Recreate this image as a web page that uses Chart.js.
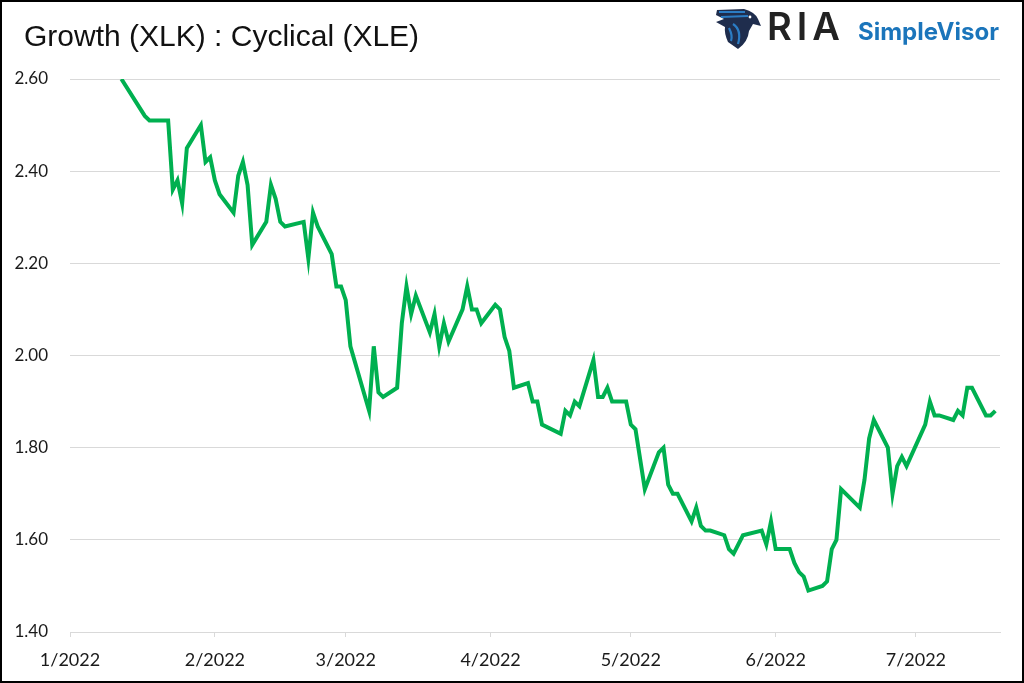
<!DOCTYPE html>
<html>
<head>
<meta charset="utf-8">
<script src="https://cdn.jsdelivr.net/npm/chart.js@4.4.1/dist/chart.umd.min.js"></script>
<style>
  html, body { margin: 0; padding: 0; background: #fff; }
  canvas { display: block; }
</style>
</head>
<body>
<canvas id="ratioChart" width="1024" height="683"></canvas>
<script>
// month ticks on the x axis (day offsets from 1 Jan 2022 are computed below)
const monthTickDates = ['2022-01-01', '2022-02-01', '2022-03-01', '2022-04-01', '2022-05-01', '2022-06-01', '2022-07-01'];
const monthTickLabels = ['1/2022', '2/2022', '3/2022', '4/2022', '5/2022', '6/2022', '7/2022'];
const axisEndDate = '2022-07-19';

const yTicks = [1.40, 1.60, 1.80, 2.00, 2.20, 2.40, 2.60];

// XLK / XLE ratio
const dates = [
    '2022-01-12', '2022-01-17', '2022-01-18', '2022-01-22', '2022-01-23', '2022-01-24', '2022-01-25', '2022-01-26',
    '2022-01-29', '2022-01-30', '2022-01-31', '2022-02-01', '2022-02-02', '2022-02-05', '2022-02-06', '2022-02-07',
    '2022-02-08', '2022-02-09', '2022-02-12', '2022-02-13', '2022-02-14', '2022-02-15', '2022-02-16', '2022-02-20',
    '2022-02-21', '2022-02-22', '2022-02-23', '2022-02-26', '2022-02-27', '2022-02-28', '2022-03-01', '2022-03-02',
    '2022-03-06', '2022-03-07', '2022-03-08', '2022-03-09', '2022-03-12', '2022-03-13', '2022-03-14', '2022-03-15',
    '2022-03-16', '2022-03-19', '2022-03-20', '2022-03-21', '2022-03-22', '2022-03-23', '2022-03-26', '2022-03-27',
    '2022-03-28', '2022-03-29', '2022-03-30', '2022-04-02', '2022-04-03', '2022-04-04', '2022-04-05', '2022-04-06',
    '2022-04-09', '2022-04-10', '2022-04-11', '2022-04-12', '2022-04-16', '2022-04-17', '2022-04-18', '2022-04-19',
    '2022-04-20', '2022-04-23', '2022-04-24', '2022-04-25', '2022-04-26', '2022-04-27', '2022-04-30', '2022-05-01',
    '2022-05-02', '2022-05-04', '2022-05-07', '2022-05-08', '2022-05-09', '2022-05-10', '2022-05-11', '2022-05-14',
    '2022-05-15', '2022-05-16', '2022-05-17', '2022-05-18', '2022-05-21', '2022-05-22', '2022-05-23', '2022-05-25',
    '2022-05-29', '2022-05-30', '2022-05-31', '2022-06-01', '2022-06-04', '2022-06-05', '2022-06-06', '2022-06-07',
    '2022-06-08', '2022-06-11', '2022-06-12', '2022-06-13', '2022-06-14', '2022-06-15', '2022-06-19', '2022-06-20',
    '2022-06-21', '2022-06-22', '2022-06-25', '2022-06-26', '2022-06-27', '2022-06-28', '2022-06-29', '2022-07-03',
    '2022-07-04', '2022-07-05', '2022-07-06', '2022-07-09', '2022-07-10', '2022-07-11', '2022-07-12', '2022-07-13',
    '2022-07-16', '2022-07-17', '2022-07-18'
];
const ratio = [
    2.60, 2.52, 2.51, 2.51, 2.36, 2.38, 2.33, 2.45,
    2.50, 2.42, 2.43, 2.38, 2.35, 2.31, 2.39, 2.42,
    2.37, 2.24, 2.29, 2.37, 2.34, 2.29, 2.28, 2.29,
    2.21, 2.31, 2.28, 2.22, 2.15, 2.15, 2.12, 2.02,
    1.88, 2.02, 1.92, 1.91, 1.93, 2.07, 2.15, 2.09,
    2.13, 2.05, 2.09, 2.02, 2.07, 2.03, 2.10, 2.15,
    2.10, 2.10, 2.07, 2.11, 2.10, 2.04, 2.01, 1.93,
    1.94, 1.90, 1.90, 1.85, 1.83, 1.88, 1.87, 1.90,
    1.89, 1.99, 1.91, 1.91, 1.93, 1.90, 1.90, 1.85,
    1.84, 1.71, 1.79, 1.80, 1.72, 1.70, 1.70, 1.64,
    1.67, 1.63, 1.62, 1.62, 1.61, 1.58, 1.57, 1.61,
    1.62, 1.59, 1.64, 1.58, 1.58, 1.55, 1.53, 1.52,
    1.49, 1.50, 1.51, 1.58, 1.60, 1.71, 1.67, 1.73,
    1.82, 1.86, 1.80, 1.70, 1.76, 1.78, 1.76, 1.85,
    1.90, 1.87, 1.87, 1.86, 1.88, 1.87, 1.93, 1.93,
    1.87, 1.87, 1.88
];

function dayOffset(iso) {
    const p = iso.split('-').map(Number);
    return Math.round((Date.UTC(p[0], p[1] - 1, p[2]) - Date.UTC(2022, 0, 1)) / 86400000);
}

const monthTicks = monthTickDates.map(dayOffset);
const points = dates.map((d, i) => ({ x: dayOffset(d), y: ratio[i] }));

const gridGrey = '#d9d9d9';

// white page, title, logo and frame
const decorPlugin = {
    id: 'decor',
    beforeDraw(chart) {
        const ctx = chart.ctx;
        ctx.save();
        ctx.fillStyle = '#fff';
        ctx.fillRect(0, 0, chart.width, chart.height);
        ctx.restore();
    },
    afterDraw(chart) {
        const ctx = chart.ctx;
        ctx.save();

        ctx.fillStyle = '#111';
        ctx.font = '30px "Liberation Sans"';
        ctx.textBaseline = 'alphabetic';
        ctx.fillText('Growth (XLK) : Cyclical (XLE)', 24, 46);

        // eagle mark
        ctx.fillStyle = '#1f2d4d';
        ctx.beginPath();
        ctx.moveTo(717, 10);
        ctx.lineTo(744, 9);
        ctx.quadraticCurveTo(755, 12, 758, 19);
        ctx.lineTo(761, 26);
        ctx.lineTo(753, 24);
        ctx.lineTo(749, 31);
        ctx.quadraticCurveTo(748, 42, 738, 49);
        ctx.lineTo(728, 42);
        ctx.quadraticCurveTo(724, 33, 725, 27);
        ctx.lineTo(716, 22);
        ctx.lineTo(724, 19);
        ctx.lineTo(716, 15);
        ctx.closePath();
        ctx.fill();
        ctx.strokeStyle = '#2b7cc4';
        ctx.lineWidth = 2.2;
        ctx.beginPath();
        ctx.moveTo(719, 12); ctx.lineTo(745, 12);
        ctx.moveTo(721, 17); ctx.lineTo(748, 16);
        ctx.moveTo(733, 24); ctx.quadraticCurveTo(742, 30, 738, 44);
        ctx.moveTo(729, 28); ctx.quadraticCurveTo(733, 36, 731, 41);
        ctx.stroke();
        ctx.fillStyle = '#fff';
        ctx.beginPath();
        ctx.arc(750, 17, 1.4, 0, Math.PI * 2);
        ctx.fill();

        ctx.fillStyle = '#222';
        ctx.font = '600 38px Inter';
        ctx.letterSpacing = '5px';
        ctx.fillText('RIA', 767, 40);
        ctx.letterSpacing = '0px';

        ctx.fillStyle = '#1b75bb';
        ctx.font = 'bold 24px Inter';
        ctx.fillText('SimpleVisor', 858, 40);

        ctx.strokeStyle = '#000';
        ctx.lineWidth = 2;
        ctx.strokeRect(1, 1, chart.width - 2, chart.height - 2);
        ctx.restore();
    }
};

new Chart(document.getElementById('ratioChart'), {
    type: 'line',
    data: {
        datasets: [{
            label: 'Growth (XLK) : Cyclical (XLE)',
            data: points,
            borderColor: '#00b050',
            borderWidth: 4,
            pointRadius: 0,
            tension: 0,
            clip: 0
        }]
    },
    options: {
        responsive: false,
        animation: false,
        events: [],
        layout: { padding: { top: 79, right: 24, bottom: 0, left: 0 } },
        plugins: {
            legend: { display: false },
            tooltip: { enabled: false }
        },
        scales: {
            x: {
                type: 'linear',
                min: 0,
                max: dayOffset(axisEndDate),
                afterBuildTicks: scale => { scale.ticks = monthTicks.map(v => ({ value: v })); },
                afterFit: scale => { scale.height = 51; },
                ticks: {
                    autoSkip: false,
                    maxRotation: 0,
                    padding: 12,
                    color: '#1a1a1a',
                    font: { family: 'Lato', size: 18 },
                    callback: value => monthTickLabels[monthTicks.indexOf(value)]
                },
                grid: {
                    drawOnChartArea: false,
                    drawTicks: true,
                    tickLength: 5,
                    color: gridGrey
                },
                border: { display: true, color: gridGrey, width: 1 }
            },
            y: {
                min: yTicks[0],
                max: yTicks[yTicks.length - 1],
                afterBuildTicks: scale => { scale.ticks = yTicks.map(v => ({ value: v })); },
                afterFit: scale => { scale.width = 70; },
                ticks: {
                    padding: 22,
                    color: '#1a1a1a',
                    font: { family: 'Lato', size: 17 },
                    callback: value => value.toFixed(2)
                },
                grid: { color: gridGrey, drawTicks: false },
                border: { display: false }
            }
        }
    },
    plugins: [decorPlugin]
});
</script>
</body>
</html>
